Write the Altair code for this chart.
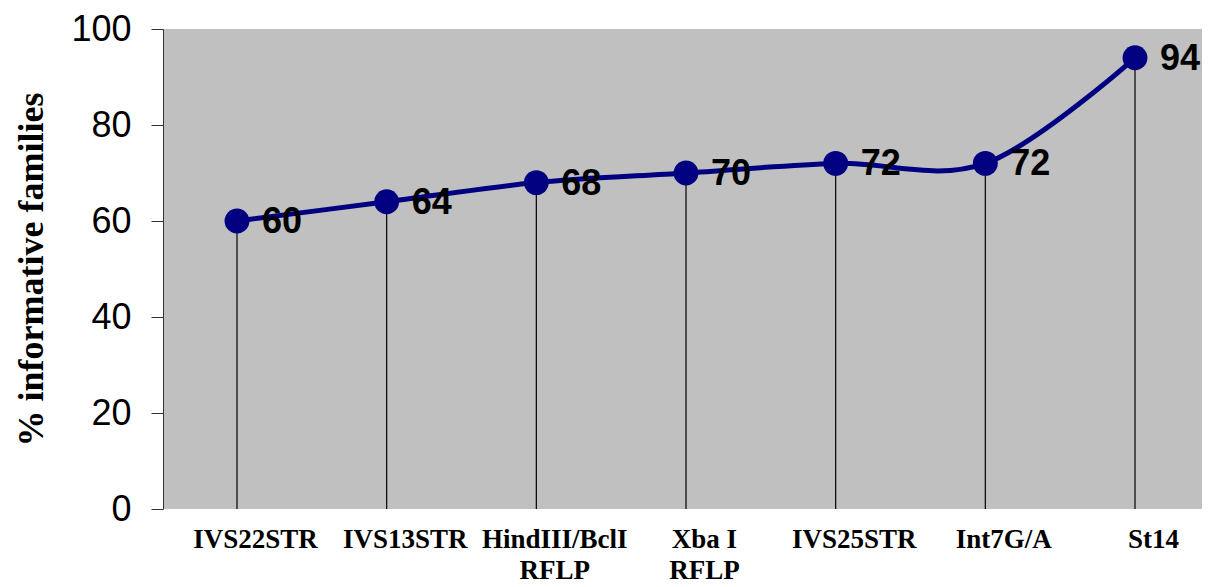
import altair as alt
import pandas as pd

categories = ["IVS22STR", "IVS13STR", "HindIII/BclI\nRFLP", "Xba I\nRFLP",
              "IVS25STR", "Int7G/A", "St14"]
values = [60, 64, 68, 70, 72, 72, 94]

df = pd.DataFrame({"marker": categories, "pct": values})

W, H = 1039, 480

x = alt.X("marker:N", sort=None,
          scale=alt.Scale(type="point", range=[74, 972], padding=0),
          axis=alt.Axis(title=None, labelAngle=0, ticks=False, domain=False,
                        labelFont="Liberation Serif", labelFontWeight="bold",
                        labelFontSize=27, labelColor="black", labelPadding=17,
                        labelLineHeight=31, labelOffset=18,
                        labelExpr="split(datum.label, '\\n')"))
y = alt.Y("pct:Q",
          scale=alt.Scale(domain=[0, 100], nice=False),
          axis=alt.Axis(title="% informative families", values=[0, 20, 40, 60, 80, 100],
                        grid=False, domainColor="#333333", tickColor="#333333",
                        tickSize=12, labelFont="Liberation Sans", labelFontSize=36,
                        labelColor="black", labelPadding=20,
                        titleFont="Liberation Serif", titleFontWeight="bold",
                        titleFontSize=36, titleColor="black", titlePadding=20))

base = alt.Chart(df)

rules = base.mark_rule(color="black", strokeWidth=1.2).encode(x=x, y=y, y2=alt.datum(0))
line = base.mark_line(color="#000080", strokeWidth=5, interpolate="cardinal", tension=0).encode(x=x, y=y)
pts = base.mark_circle(color="#000080", opacity=1, size=620).encode(x=x, y=y)
txt = base.mark_text(align="left", baseline="middle", dx=25, dy=1,
                     font="Liberation Sans", fontWeight="bold", fontSize=36,
                     color="black").encode(x=x, y=y, text="pct:Q")

chart = alt.layer(rules, line, pts, txt).properties(
    width=W, height=H,
    padding={"left": 5, "top": 3, "right": 0, "bottom": 0},
).configure(background="white").configure_view(fill="#C0C0C0", stroke=None)

chart.save("out.html", embed_options={"renderer": "svg", "actions": False})
